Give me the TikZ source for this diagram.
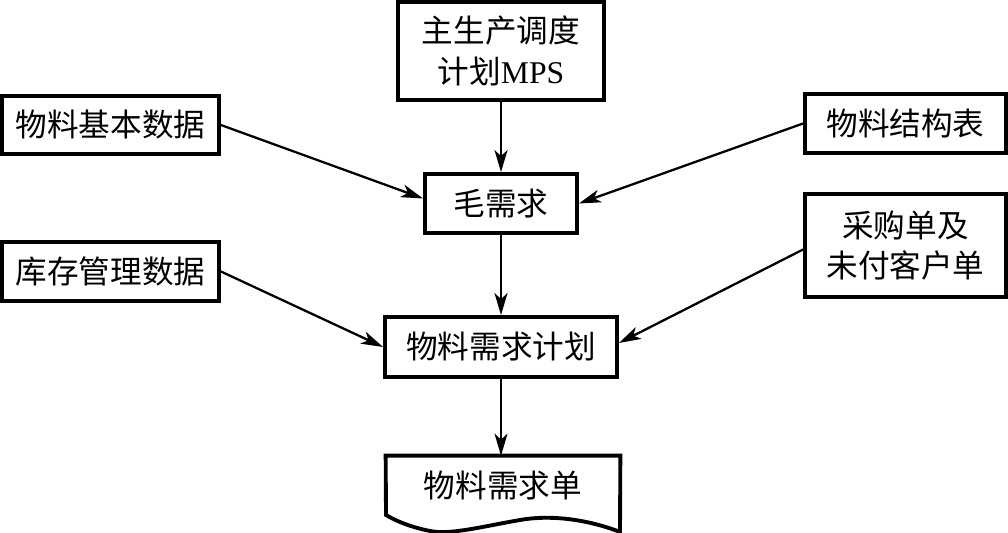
\documentclass[tikz,border=0pt]{standalone}
\usepackage{fontspec}
\setmainfont{Liberation Serif}
\newfontfamily\cjk{Noto Sans CJK SC}
\usepackage{tikz}
\usetikzlibrary{positioning,arrows.meta}

\tikzset{
  box/.style={draw, line width=2.2pt, inner sep=0pt, align=center},
  arr/.style={line width=1.3pt, -{Stealth[length=4.4mm,width=2.6mm,inset=1.2mm]}}
}

\begin{document}
\begin{tikzpicture}[font=\fontsize{18}{23}\selectfont\cjk, node distance=1.5cm]
        \useasboundingbox (0,0) rectangle (20.16,10.66);
        % middle column
        \node[box, minimum width=4.12cm, minimum height=1.96cm] (mps) at (10.02,9.64) {主生产调度\\计划{\rmfamily MPS}};
        \node[box, minimum width=3.04cm, minimum height=1.18cm] (gross) at (10.02,6.59) {毛需求};
        \node[box, minimum width=4.64cm, minimum height=1.20cm] (mrp) at (10.02,3.72) {物料需求计划};
        \node[inner sep=0pt, minimum width=4.68cm, minimum height=1.18cm] (doc) at (10.06,0.95) {物料需求单};
        % side inputs
        \node[box, minimum width=4.34cm, minimum height=1.16cm] (basic) at (2.21,8.16) {物料基本数据};
        \node[box, minimum width=4.34cm, minimum height=1.18cm] (stock) at (2.21,5.23) {库存管理数据};
        \node[box, minimum width=4.02cm, minimum height=1.18cm] (bom) at (18.11,8.19) {物料结构表};
        \node[box, minimum width=4.02cm, minimum height=2.06cm] (orders) at (18.11,5.75) {采购单及\\未付客户单};
        % document shape
        \draw[line width=2.2pt, line join=miter] (doc.north west) -- (doc.north east) -- (12.40,0.02)
              .. controls (12.0,0.18) and (11.2,0.40) .. (10.40,0.26)
              .. controls (9.6,0.12) and (9.0,-0.04) .. (8.60,0.04)
              .. controls (8.2,0.12) and (7.9,0.25) .. (7.72,0.36) -- cycle;
        \draw[arr] (mps)--(gross);
        \draw[arr] (gross)--(mrp);
        \draw[arr] (mrp.south)--(mrp.south |- doc.north);
        \draw[arr] (basic.east)--([yshift=0.1cm]gross.west);
        \draw[arr] (bom.west)--(gross.east);
        \draw[arr] (stock.east)--(mrp.west);
        \draw[arr] ([yshift=-0.08cm]orders.west)--([yshift=0.08cm]mrp.east);
      \end{tikzpicture}
\end{document}
